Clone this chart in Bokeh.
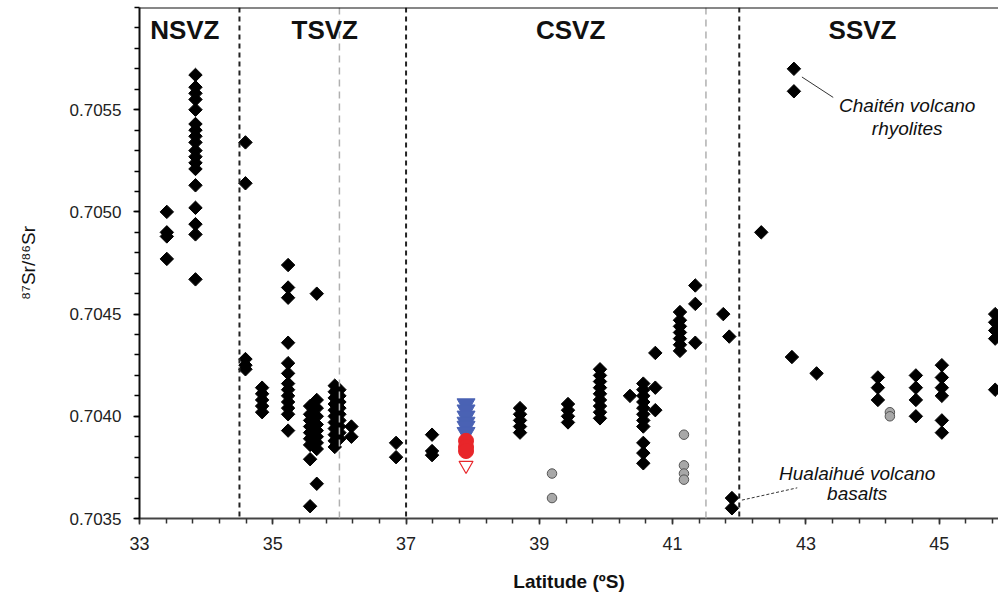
import numpy as np
from bokeh.plotting import figure
from bokeh.models import Span, Label, FixedTicker, Range1d, PrintfTickFormatter
from bokeh.embed import file_html
from bokeh.resources import INLINE

# ---------------- data ----------------
x_ticks = [33, 35, 37, 39, 41, 43, 45]
y_ticks = [0.7035, 0.7040, 0.7045, 0.7050, 0.7055]

zone_names = ["NSVZ", "TSVZ", "CSVZ", "SSVZ"]
zone_label_lat = [33.68, 35.78, 39.47, 43.85]
zone_bounds_black = [34.5, 37.0, 42.0]
zone_bounds_gray = [36.0, 41.5]

nsvz_lat = [33.41, 33.41, 33.41, 33.41,
            33.84, 33.84, 33.84, 33.84, 33.84, 33.84, 33.84, 33.84, 33.84,
            33.84, 33.84, 33.84, 33.84, 33.84, 33.84, 33.84, 33.84, 33.84]
nsvz_sr = [0.70500, 0.70490, 0.70488, 0.70477,
           0.70567, 0.70561, 0.70558, 0.70555, 0.70550, 0.70543, 0.70540, 0.70537, 0.70534,
           0.70530, 0.70527, 0.70524, 0.70521, 0.70513, 0.70502, 0.70494, 0.70489, 0.70467]

tsvz_lat = [34.59, 34.59, 34.59, 34.59, 34.59,
            34.84, 34.84, 34.84, 34.84, 34.84,
            35.23, 35.23, 35.23, 35.23, 35.23, 35.23, 35.23, 35.23, 35.23, 35.23, 35.23, 35.23, 35.23,
            35.56, 35.56, 35.56, 35.56, 35.56, 35.56, 35.56, 35.56, 35.56,
            35.66, 35.66, 35.66, 35.66, 35.66, 35.66, 35.66, 35.66, 35.66, 35.66,
            35.93, 35.93, 35.93, 35.93, 35.93, 35.93, 35.93, 35.93, 35.93, 35.93, 35.93,
            36.00, 36.00, 36.00, 36.00, 36.00, 36.00, 36.00, 36.00, 36.00,
            36.18, 36.18, 36.85, 36.85]
tsvz_sr = [0.70534, 0.70514, 0.70428, 0.70425, 0.70423,
           0.70414, 0.70411, 0.70408, 0.70405, 0.70402,
           0.70474, 0.70463, 0.70458, 0.70436, 0.70426, 0.70421, 0.70416, 0.70413, 0.70410, 0.70407, 0.70404, 0.70401, 0.70393,
           0.70405, 0.70401, 0.70398, 0.70395, 0.70392, 0.70389, 0.70386, 0.70379, 0.70356,
           0.70408, 0.70404, 0.70400, 0.70396, 0.70393, 0.70390, 0.70387, 0.70384, 0.70460, 0.70367,
           0.70415, 0.70412, 0.70409, 0.70406, 0.70403, 0.70400, 0.70397, 0.70394, 0.70391, 0.70388, 0.70385,
           0.70413, 0.70410, 0.70407, 0.70404, 0.70401, 0.70398, 0.70395, 0.70392, 0.70389,
           0.70395, 0.70390, 0.70387, 0.70380]

csvz_lat = [37.39, 37.39, 37.39,
            38.71, 38.71, 38.71, 38.71, 38.71,
            39.43, 39.43, 39.43, 39.43,
            39.91, 39.91, 39.91, 39.91, 39.91, 39.91, 39.91, 39.91, 39.91,
            40.36,
            40.56, 40.56, 40.56, 40.56, 40.56, 40.56, 40.56, 40.56, 40.56, 40.56, 40.56,
            40.74, 40.74, 40.74,
            41.11, 41.11, 41.11, 41.11, 41.11, 41.11, 41.11,
            41.34, 41.34, 41.34,
            41.76, 41.85, 41.89, 41.89]
csvz_sr = [0.70391, 0.70383, 0.70381,
           0.70404, 0.70401, 0.70398, 0.70395, 0.70392,
           0.70406, 0.70403, 0.70400, 0.70397,
           0.70423, 0.70420, 0.70417, 0.70414, 0.70411, 0.70408, 0.70405, 0.70402, 0.70399,
           0.70410,
           0.70416, 0.70413, 0.70410, 0.70407, 0.70404, 0.70401, 0.70398, 0.70395, 0.70387, 0.70382, 0.70377,
           0.70431, 0.70414, 0.70403,
           0.70451, 0.70447, 0.70444, 0.70441, 0.70438, 0.70435, 0.70432,
           0.70464, 0.70455, 0.70436,
           0.70450, 0.70439, 0.70360, 0.70355]

ssvz_lat = [42.33, 42.82, 42.82, 42.79, 43.16,
            44.08, 44.08, 44.08,
            44.65, 44.65, 44.65, 44.65,
            45.04, 45.04, 45.04, 45.04, 45.04, 45.04,
            45.84, 45.84, 45.84, 45.84, 45.84]
ssvz_sr = [0.70490, 0.70570, 0.70559, 0.70429, 0.70421,
           0.70419, 0.70414, 0.70408,
           0.70420, 0.70414, 0.70408, 0.70400,
           0.70425, 0.70419, 0.70414, 0.70410, 0.70398, 0.70392,
           0.70450, 0.70446, 0.70442, 0.70438, 0.70413]

gray_lat = [39.19, 39.19, 41.17, 41.17, 41.17, 41.17, 44.26, 44.26]
gray_sr = [0.70372, 0.70360, 0.70391, 0.70376, 0.70372, 0.70369, 0.70402, 0.70400]

blue_lat = [37.90, 37.90, 37.90, 37.90, 37.90, 37.90]
blue_sr = [0.70406, 0.70403, 0.70400, 0.70397, 0.70395, 0.70392]

red_lat = [37.90, 37.90, 37.90]
red_sr = [0.70388, 0.70385, 0.70383]

open_lat = [37.90]
open_sr = [0.70376]

# ---------------- figure ----------------
FONT = "Liberation Sans"

p = figure(width=998, height=599,
           x_range=Range1d(33, 45.89), y_range=Range1d(0.7035, 0.7060),
           output_backend="svg", toolbar_location=None,
           min_border_left=139, min_border_right=0,
           min_border_top=7, min_border_bottom=81)
p.outline_line_color = None
p.xgrid.visible = False
p.ygrid.visible = False
p.background_fill_color = "white"
p.border_fill_color = "white"

# zone boundaries
for b in zone_bounds_black:
    p.add_layout(Span(location=b, dimension="height", line_color="#222222",
                      line_width=2, line_dash="5 4"))
for b in zone_bounds_gray:
    p.add_layout(Span(location=b, dimension="height", line_color="#b0b0b0",
                      line_width=1.5, line_dash="7 5"))
p.add_layout(Span(location=0.7060, dimension="width", line_color="#111111", line_width=2))

# markers
all_lat = nsvz_lat + tsvz_lat + csvz_lat + ssvz_lat
all_sr = nsvz_sr + tsvz_sr + csvz_sr + ssvz_sr
p.scatter(all_lat, all_sr, marker="square", angle=np.pi / 4, size=9.5,
          fill_color="black", line_color="black", line_width=1)
p.scatter(gray_lat, gray_sr, marker="circle", size=9.5,
          fill_color="#a8a8a8", line_color="#555555", line_width=1)
p.scatter(blue_lat, blue_sr, marker="inverted_triangle", size=18,
          fill_color="#4a62b4", line_color="#4a62b4", line_width=1)
p.scatter(red_lat, red_sr, marker="circle", size=15,
          fill_color="#e8262a", line_color="#e8262a", line_width=1)
p.scatter(open_lat, open_sr, marker="inverted_triangle", size=14,
          fill_color="white", line_color="#e8262a", line_width=1.2)

# zone labels
for name, lat in zip(zone_names, zone_label_lat):
    p.add_layout(Label(x=lat, y=0.70589, text=name, text_align="center",
                       text_baseline="middle", text_font=FONT,
                       text_font_size="26px", text_font_style="bold",
                       text_color="#111111"))

# annotations
p.line([42.94, 43.41], [0.70566, 0.70556], line_color="#333333", line_width=1)
p.add_layout(Label(x=44.52, y=0.70552, text="Chaitén volcano", text_align="center",
                   text_baseline="middle", text_font=FONT, text_font_size="19px",
                   text_font_style="italic", text_color="#111111"))
p.add_layout(Label(x=44.52, y=0.70541, text="rhyolites", text_align="center",
                   text_baseline="middle", text_font=FONT, text_font_size="19px",
                   text_font_style="italic", text_color="#111111"))
p.line([42.04, 42.87], [0.70359, 0.70365], line_color="#333333", line_width=1,
       line_dash="3 2")
p.add_layout(Label(x=43.77, y=0.70372, text="Hualaihué volcano", text_align="center",
                   text_baseline="middle", text_font=FONT, text_font_size="19px",
                   text_font_style="italic", text_color="#111111"))
p.add_layout(Label(x=43.77, y=0.70362, text="basalts", text_align="center",
                   text_baseline="middle", text_font=FONT, text_font_size="19px",
                   text_font_style="italic", text_color="#111111"))

# axes
x_minor = [round(v, 2) for v in np.arange(33.0, 46.01, 0.4)]
y_minor = [round(v, 5) for v in np.arange(0.7035, 0.70601, 0.0001)]
p.xaxis.ticker = FixedTicker(ticks=x_ticks, minor_ticks=x_minor)
p.yaxis.ticker = FixedTicker(ticks=y_ticks, minor_ticks=y_minor)
p.yaxis.formatter = PrintfTickFormatter(format="%.4f")

for ax in (p.xaxis[0], p.yaxis[0]):
    ax.axis_line_width = 2
    ax.major_tick_in = 0
    ax.major_tick_out = 6
    ax.minor_tick_in = 0
    ax.minor_tick_out = 5
    ax.major_tick_line_width = 1.5
    ax.minor_tick_line_width = 1.5
    ax.major_label_text_font = FONT
    ax.major_label_text_color = "#222222"
    ax.axis_label_text_font = FONT
    ax.axis_label_text_color = "#111111"

p.xaxis.axis_line_color = "#444444"
p.xaxis.major_tick_line_color = "#333333"
p.xaxis.minor_tick_line_color = "#333333"
p.yaxis.axis_line_color = "#111111"

p.xaxis.major_label_text_font_size = "18px"
p.yaxis.major_label_text_font_size = "17px"
p.xaxis.major_label_standoff = 12
p.yaxis.major_label_standoff = 12

p.xaxis.axis_label = "Latitude (ºS)"
p.xaxis.axis_label_text_font_size = "19px"
p.xaxis.axis_label_text_font_style = "bold"
p.xaxis.axis_label_standoff = 18

p.yaxis.axis_label = "⁸⁷Sr/⁸⁶Sr"
p.yaxis.axis_label_text_font_size = "19px"
p.yaxis.axis_label_text_font_style = "normal"
p.yaxis.axis_label_standoff = 28

open("out.html", "w").write(file_html(p, INLINE))
